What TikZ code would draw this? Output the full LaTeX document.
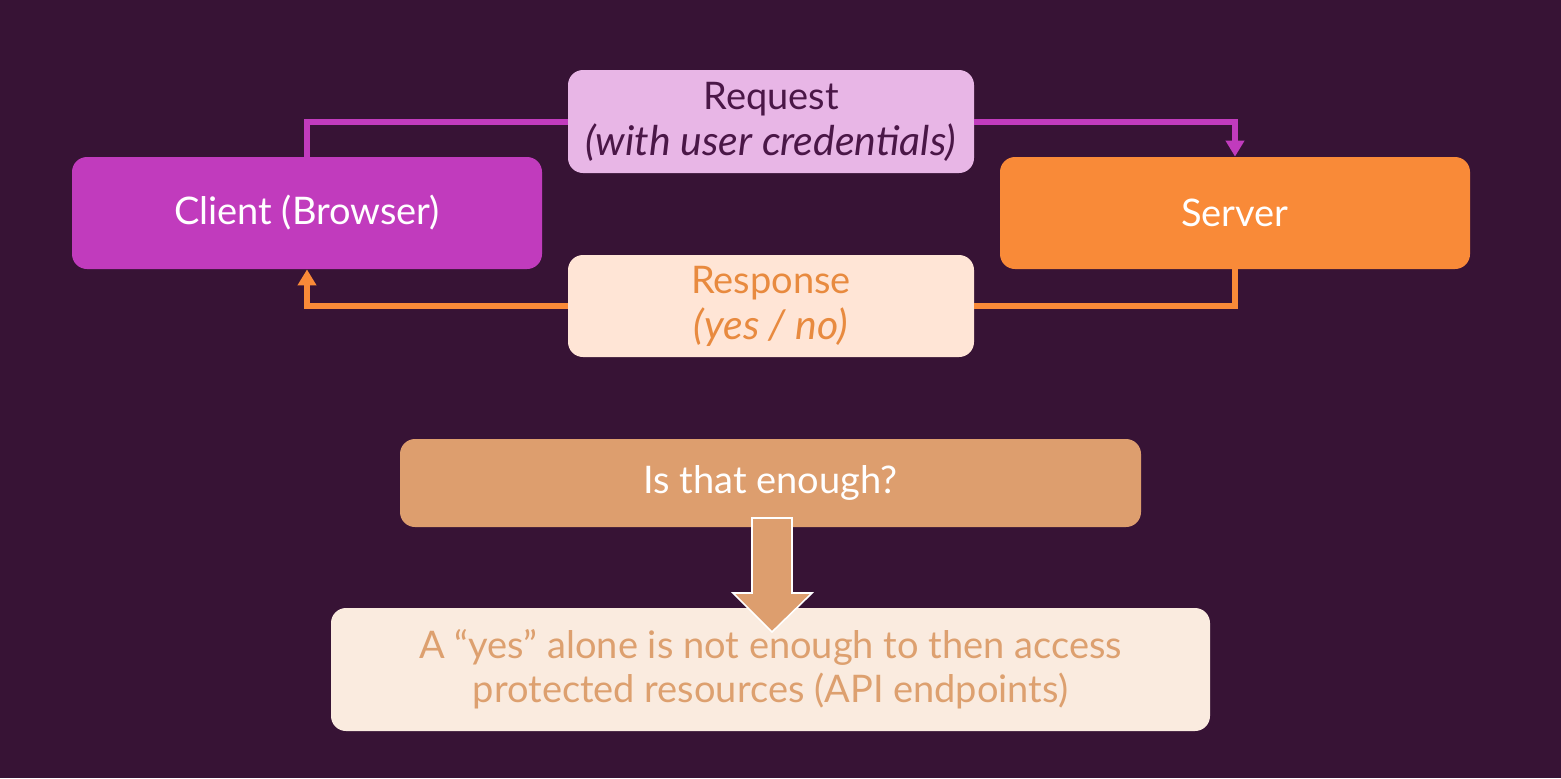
\documentclass[tikz,border=0pt]{standalone}
\usepackage{fontspec}
\setmainfont{Lato}
\usetikzlibrary{arrows.meta}
\definecolor{bg}{HTML}{371335}
\definecolor{clientc}{HTML}{C13BBD}
\definecolor{serverc}{HTML}{F98A38}
\definecolor{reqfill}{HTML}{E8B6E6}
\definecolor{reqtext}{HTML}{4A1747}
\definecolor{respfill}{HTML}{FFE5D6}
\definecolor{resptext}{HTML}{E88A3F}
\definecolor{enoughc}{HTML}{DD9E6E}
\definecolor{botfill}{HTML}{FAEBDF}
\definecolor{bottext}{HTML}{DDA06F}
\newcommand{\itl}{\fontsize{20.5}{22}\selectfont\itshape}
\tikzset{
  box/.style={rectangle, rounded corners=7.5pt, inner sep=0pt, align=center,
    font=\fontsize{19}{22}\selectfont},
  reqline/.style={draw=clientc, line width=3pt},
  respline/.style={draw=serverc, line width=3pt},
  tip/.style={-{Triangle[width=9pt,length=8pt]}},
}
\begin{document}
\begin{tikzpicture}[x=0.5pt,y=-0.5pt]
\fill[bg] (0,0) rectangle (1561,778);
\useasboundingbox (0,0) rectangle (1561,778);
% nodes
\node[box, fill=clientc, text=white, minimum width=235pt, minimum height=56pt] (client) at (307,213) {Client (Browser)};
\node[box, fill=serverc, text=white, minimum width=235pt, minimum height=56pt] (server) at (1235,213) {Server};
\node[box, fill=reqfill, text=reqtext, minimum width=203pt, minimum height=51.5pt] (req) at (771,121.5) {Request\\[1pt]{\itl (with user credentials)}};
\node[box, fill=respfill, text=resptext, minimum width=203pt, minimum height=51pt] (resp) at (771,306) {Response\\[1pt]{\itl (yes / no)}};
\node[box, fill=enoughc, text=white, minimum width=370.5pt, minimum height=44pt] (enough) at (770.5,483) {Is that enough?};
\node[box, fill=botfill, text=bottext, minimum width=439.5pt, minimum height=61.5pt] (bottom) at (770.5,669.5) {A “yes” alone is not enough to then access\\protected resources (API endpoints)};
% connectors
\draw[reqline] (client.north) |- (req.west);
\draw[reqline, tip] (req.east) -| (server.north);
\draw[respline] (server.south) |- (resp.east);
\draw[respline, tip] (resp.west) -| (client.south);
% big arrow
\draw[fill=enoughc, draw=white, line width=0.8pt]
  (752,518) -- (792,518) -- (792,593) -- (812,593) -- (772,632) -- (733,593) -- (752,593) -- cycle;
\end{tikzpicture}
\end{document}
